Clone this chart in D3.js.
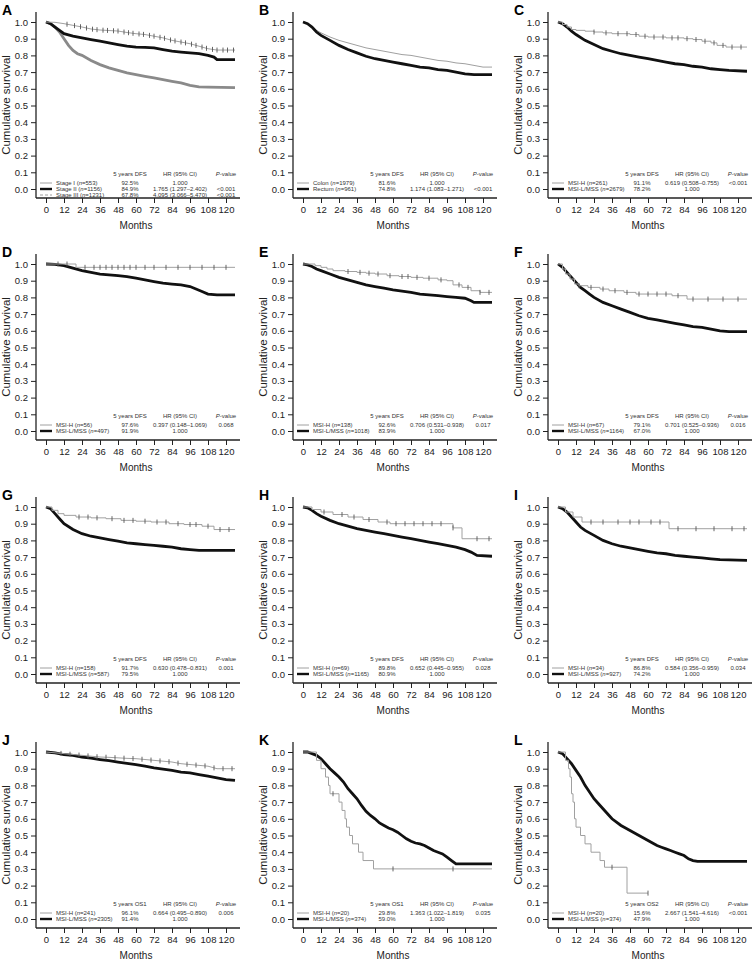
<!DOCTYPE html>
<html>
<head>
<meta charset="utf-8">
<script src="https://cdn.jsdelivr.net/npm/d3@7"></script>
<style>
body { margin: 0; background: #fff; }
svg text { font-family: "Liberation Sans", Arial, sans-serif; }
</style>
</head>
<body>
<svg id="chart" width="756" height="961"></svg>
<script>
// axis ticks
var monthTicks = [0, 12, 24, 36, 48, 60, 72, 84, 96, 108, 120];
var survTicks = [0, 0.1, 0.2, 0.3, 0.4, 0.5, 0.6, 0.7, 0.8, 0.9, 1.0];

// ---- A: stage
var a_stage1 = [[0,1],[6,0.998],[12,0.99],[18,0.98],[24,0.97],[30,0.958],[36,0.952],[48,0.946],[54,0.937],[60,0.93],[66,0.925],[72,0.915],[78,0.905],[84,0.89],[90,0.88],[96,0.87],[102,0.855],[108,0.84],[114,0.832],[126,0.832]];
var a_stage2 = [[0,1],[3,0.99],[6,0.97],[9,0.95],[12,0.93],[18,0.915],[24,0.905],[30,0.895],[36,0.885],[42,0.875],[48,0.865],[54,0.856],[60,0.85],[66,0.848],[72,0.845],[78,0.835],[84,0.825],[90,0.82],[96,0.815],[102,0.81],[108,0.8],[112,0.79],[114,0.775],[126,0.775]];
var a_stage3 = [[0,1],[3,0.99],[6,0.97],[9,0.94],[12,0.9],[15,0.86],[18,0.83],[21,0.81],[24,0.8],[30,0.77],[36,0.745],[42,0.725],[48,0.71],[54,0.695],[60,0.685],[66,0.675],[72,0.665],[78,0.655],[84,0.645],[90,0.635],[96,0.62],[102,0.612],[108,0.61],[126,0.607]];
var a_stage1_cens = [14,19,23,27,31,34,38,41,45,48,52,55,58,62,65,69,72,76,79,83,86,90,93,97,100,104,107,111,114,118,121,125];
var legendA = [["Stage I","553","92.5%","1.000",""],["Stage II","1156","84.9%","1.765 (1.297\u20132.402)","<0.001"],["Stage III","1231","67.8%","4.095 (3.066\u20135.470)","<0.001"]];

// ---- B: site
var b_colon = [[0,1],[3,0.99],[6,0.97],[9,0.95],[12,0.935],[18,0.91],[24,0.89],[30,0.875],[36,0.86],[42,0.845],[48,0.835],[54,0.825],[60,0.815],[66,0.805],[72,0.8],[78,0.79],[84,0.78],[90,0.77],[96,0.765],[102,0.755],[108,0.75],[114,0.74],[120,0.73],[126,0.73]];
var b_rectum = [[0,1],[3,0.99],[6,0.97],[9,0.94],[12,0.92],[18,0.89],[24,0.86],[30,0.835],[36,0.815],[42,0.795],[48,0.78],[54,0.77],[60,0.76],[66,0.75],[72,0.74],[78,0.73],[84,0.725],[90,0.715],[96,0.71],[102,0.7],[108,0.69],[114,0.685],[126,0.685]];
var legendB = [["Colon","1979","81.6%","1.000",""],["Rectum","961","74.8%","1.174 (1.083\u20131.271)","<0.001"]];

// ---- C
var c_msih = [[0,1],[3,0.985],[6,0.97],[9,0.955],[12,0.95],[18,0.945],[24,0.94],[30,0.935],[36,0.93],[48,0.925],[54,0.915],[60,0.91],[72,0.905],[84,0.9],[90,0.895],[96,0.885],[102,0.875],[106,0.86],[112,0.85],[126,0.85]];
var c_mss = [[0,1],[3,0.99],[6,0.97],[9,0.945],[12,0.925],[18,0.89],[24,0.865],[30,0.84],[36,0.825],[42,0.81],[48,0.8],[54,0.79],[60,0.78],[66,0.77],[72,0.76],[78,0.75],[84,0.745],[90,0.735],[96,0.73],[102,0.72],[108,0.715],[114,0.71],[126,0.705]];
var c_msih_cens = [24,32,40,46,52,58,64,70,76,80,86,92,98,104,110,116,122];
var legendC = [["MSI-H","261","91.1%","0.619 (0.508\u20130.755)","<0.001"],["MSI-L/MSS","2679","78.2%","1.000",""]];

// ---- D
var d_msih = [[0,1],[20,0.98],[126,0.98]];
var d_mss = [[0,1],[6,0.998],[12,0.99],[18,0.975],[24,0.96],[30,0.95],[36,0.94],[42,0.935],[48,0.93],[54,0.925],[60,0.915],[66,0.905],[72,0.895],[78,0.885],[84,0.88],[90,0.875],[96,0.865],[100,0.85],[104,0.835],[108,0.82],[114,0.815],[126,0.815]];
var d_msih_cens = [8,14,26,32,36,40,44,48,52,56,60,66,72,80,88,96,104,112,120];
var legendD = [["MSI-H","56","97.6%","0.397 (0.148\u20131.069)","0.068"],["MSI-L/MSS","497","91.9%","1.000",""]];

// ---- E
var e_msih = [[0,1],[8,0.99],[12,0.98],[16,0.97],[20,0.96],[28,0.955],[36,0.95],[42,0.945],[48,0.94],[56,0.93],[64,0.925],[72,0.92],[80,0.915],[90,0.905],[96,0.9],[100,0.875],[106,0.86],[112,0.84],[118,0.83],[126,0.83]];
var e_mss = [[0,1],[3,0.995],[6,0.985],[9,0.97],[12,0.96],[18,0.94],[24,0.92],[30,0.905],[36,0.89],[42,0.875],[48,0.865],[54,0.855],[60,0.845],[66,0.838],[72,0.83],[78,0.82],[84,0.815],[90,0.81],[96,0.805],[102,0.8],[108,0.795],[112,0.78],[114,0.77],[126,0.77]];
var e_msih_cens = [30,38,44,50,58,66,70,76,84,92,104,110,118,124];
var legendE = [["MSI-H","138","92.6%","0.706 (0.531\u20130.938)","0.017"],["MSI-L/MSS","1018","83.9%","1.000",""]];

// ---- F
var f_msih = [[0,1],[3,0.97],[5,0.94],[8,0.91],[11,0.88],[14,0.87],[20,0.86],[28,0.85],[34,0.84],[44,0.83],[52,0.82],[76,0.81],[86,0.79],[126,0.79]];
var f_mss = [[0,1],[3,0.98],[6,0.95],[9,0.92],[12,0.89],[15,0.86],[18,0.84],[21,0.82],[24,0.8],[30,0.77],[36,0.75],[42,0.73],[48,0.71],[54,0.69],[60,0.675],[66,0.665],[72,0.655],[78,0.645],[84,0.635],[90,0.625],[96,0.62],[102,0.61],[108,0.6],[114,0.595],[126,0.595]];
var f_msih_cens = [14,22,30,38,46,54,60,66,72,80,90,100,110,120];
var legendF = [["MSI-H","67","79.1%","0.701 (0.525\u20130.936)","0.016"],["MSI-L/MSS","1164","67.0%","1.000",""]];

// ---- G
var g_msih = [[0,1],[4,0.98],[8,0.96],[12,0.95],[20,0.94],[30,0.935],[40,0.93],[50,0.92],[60,0.915],[70,0.91],[82,0.9],[92,0.895],[104,0.885],[112,0.865],[126,0.865]];
var g_mss = [[0,1],[3,0.99],[6,0.96],[9,0.93],[12,0.9],[18,0.865],[24,0.84],[30,0.825],[36,0.815],[42,0.805],[48,0.795],[54,0.785],[60,0.78],[66,0.775],[72,0.77],[78,0.765],[84,0.76],[90,0.75],[96,0.745],[102,0.74],[126,0.74]];
var g_msih_cens = [22,28,34,44,52,58,66,74,80,88,96,100,108,116,122];
var legendG = [["MSI-H","158","91.7%","0.630 (0.478\u20130.831)","0.001"],["MSI-L/MSS","587","79.5%","1.000",""]];

// ---- H
var h_msih = [[0,1],[6,0.985],[12,0.97],[20,0.955],[30,0.94],[40,0.925],[50,0.91],[58,0.9],[98,0.9],[100,0.875],[106,0.81],[126,0.81]];
var h_mss = [[0,1],[3,0.995],[6,0.98],[9,0.96],[12,0.945],[18,0.92],[24,0.9],[30,0.885],[36,0.87],[42,0.86],[48,0.85],[54,0.84],[60,0.83],[66,0.82],[72,0.81],[78,0.8],[84,0.79],[90,0.78],[96,0.77],[102,0.76],[108,0.745],[112,0.73],[116,0.71],[126,0.705]];
var h_msih_cens = [14,26,34,44,56,62,68,74,80,86,92,100,116,124];
var legendH = [["MSI-H","69","89.8%","0.652 (0.445\u20130.955)","0.028"],["MSI-L/MSS","1165","80.9%","1.000",""]];

// ---- I
var i_msih = [[0,1],[5,0.97],[10,0.94],[16,0.91],[74,0.87],[126,0.87]];
var i_mss = [[0,1],[3,0.99],[6,0.97],[9,0.94],[12,0.91],[15,0.88],[18,0.86],[24,0.83],[30,0.8],[36,0.78],[42,0.765],[48,0.755],[54,0.745],[60,0.735],[66,0.725],[72,0.72],[78,0.71],[84,0.705],[90,0.7],[96,0.695],[102,0.69],[108,0.685],[126,0.68]];
var i_msih_cens = [22,30,40,48,54,62,68,80,92,104,116,124];
var legendI = [["MSI-H","34","86.8%","0.584 (0.356\u20130.959)","0.034"],["MSI-L/MSS","927","74.2%","1.000",""]];

// ---- J
var j_msih = [[0,1],[6,0.995],[12,0.99],[18,0.985],[24,0.98],[30,0.975],[36,0.97],[42,0.968],[48,0.965],[54,0.962],[60,0.96],[66,0.955],[72,0.95],[78,0.945],[84,0.94],[90,0.93],[96,0.925],[102,0.92],[108,0.915],[114,0.9],[126,0.9]];
var j_mss = [[0,1],[6,0.995],[12,0.985],[18,0.98],[24,0.97],[30,0.963],[36,0.955],[42,0.948],[48,0.94],[54,0.932],[60,0.925],[66,0.915],[72,0.905],[78,0.897],[84,0.89],[90,0.88],[96,0.875],[102,0.865],[108,0.855],[114,0.845],[120,0.835],[126,0.83]];
var j_msih_cens = [10,16,22,28,34,40,46,52,58,64,70,76,82,88,94,100,106,112,118,124];
var legendJ = [["MSI-H","241","96.1%","0.664 (0.495\u20130.890)","0.006"],["MSI-L/MSS","2305","91.4%","1.000",""]];

// ---- K
var k_msih = [[0,1],[9,0.95],[12,0.9],[15,0.85],[17,0.8],[18,0.75],[24,0.7],[26,0.65],[28,0.6],[29,0.55],[31,0.5],[33,0.45],[37,0.4],[40,0.35],[47,0.3],[126,0.3]];
var k_mss = [[0,1],[3,1],[6,0.99],[9,0.98],[12,0.96],[15,0.93],[18,0.9],[21,0.875],[24,0.85],[27,0.82],[30,0.78],[33,0.75],[36,0.72],[39,0.68],[42,0.645],[45,0.62],[48,0.6],[51,0.575],[54,0.56],[57,0.545],[60,0.535],[63,0.52],[66,0.5],[69,0.48],[72,0.465],[75,0.455],[78,0.45],[81,0.44],[84,0.425],[87,0.41],[90,0.4],[93,0.39],[96,0.37],[99,0.35],[102,0.33],[126,0.33]];
var k_msih_cens = [20,60,100];
var legendK = [["MSI-H","20","29.8%","1.363 (1.022\u20131.819)","0.035"],["MSI-L/MSS","374","59.0%","1.000",""]];

// ---- L
var l_msih = [[0,1],[5,0.95],[7,0.9],[8,0.85],[9,0.75],[10,0.7],[11,0.6],[12,0.55],[15,0.5],[18,0.45],[22,0.4],[28,0.35],[31,0.31],[46,0.155],[60,0.155]];
var l_mss = [[0,1],[3,0.99],[6,0.96],[9,0.93],[12,0.89],[15,0.85],[18,0.8],[21,0.76],[24,0.72],[27,0.69],[30,0.66],[33,0.63],[36,0.6],[39,0.58],[42,0.56],[45,0.545],[48,0.53],[51,0.515],[54,0.5],[57,0.485],[60,0.47],[63,0.455],[66,0.44],[69,0.43],[72,0.42],[75,0.41],[78,0.4],[81,0.39],[84,0.38],[87,0.36],[90,0.35],[93,0.345],[126,0.345]];
var l_msih_cens = [36,60];
var legendL = [["MSI-H","20","15.6%","2.667 (1.541\u20134.616)","<0.001"],["MSI-L/MSS","374","47.9%","1.000",""]];

// table used to draw the panels
var panels = [
    {letter: "A", head: "5 years DFS", legend: legendA, curves: [
        {pts: a_stage3, cens: [], kind: "gray3", step: false},
        {pts: a_stage2, cens: [], kind: "black", step: false},
        {pts: a_stage1, cens: a_stage1_cens, kind: "gray", step: false}],
        keys: ["gray", "black", "dash"]},
    {letter: "B", head: "5 years DFS", legend: legendB, curves: [
        {pts: b_colon, cens: [], kind: "gray", step: false},
        {pts: b_rectum, cens: [], kind: "black", step: false}]},
    {letter: "C", head: "5 years DFS", legend: legendC, curves: [
        {pts: c_mss, cens: [], kind: "black", step: false},
        {pts: c_msih, cens: c_msih_cens, kind: "gray", step: true}]},
    {letter: "D", head: "5 years DFS", legend: legendD, curves: [
        {pts: d_mss, cens: [], kind: "black", step: false},
        {pts: d_msih, cens: d_msih_cens, kind: "gray", step: true}]},
    {letter: "E", head: "5 years DFS", legend: legendE, curves: [
        {pts: e_mss, cens: [], kind: "black", step: false},
        {pts: e_msih, cens: e_msih_cens, kind: "gray", step: true}]},
    {letter: "F", head: "5 years DFS", legend: legendF, curves: [
        {pts: f_mss, cens: [], kind: "black", step: false},
        {pts: f_msih, cens: f_msih_cens, kind: "gray", step: true}]},
    {letter: "G", head: "5 years DFS", legend: legendG, curves: [
        {pts: g_mss, cens: [], kind: "black", step: false},
        {pts: g_msih, cens: g_msih_cens, kind: "gray", step: true}]},
    {letter: "H", head: "5 years DFS", legend: legendH, curves: [
        {pts: h_mss, cens: [], kind: "black", step: false},
        {pts: h_msih, cens: h_msih_cens, kind: "gray", step: true}]},
    {letter: "I", head: "5 years DFS", legend: legendI, curves: [
        {pts: i_mss, cens: [], kind: "black", step: false},
        {pts: i_msih, cens: i_msih_cens, kind: "gray", step: true}]},
    {letter: "J", head: "5 years OS1", legend: legendJ, curves: [
        {pts: j_mss, cens: [], kind: "black", step: false},
        {pts: j_msih, cens: j_msih_cens, kind: "gray", step: false}]},
    {letter: "K", head: "5 years OS1", legend: legendK, curves: [
        {pts: k_mss, cens: [], kind: "black", step: false},
        {pts: k_msih, cens: k_msih_cens, kind: "gray", step: true}]},
    {letter: "L", head: "5 years OS2", legend: legendL, curves: [
        {pts: l_mss, cens: [], kind: "black", step: false},
        {pts: l_msih, cens: l_msih_cens, kind: "gray", step: true}]}
];

var colX = [0, 257, 512];
var rowY = [0, 242, 485, 730];
var axisX = 36, axisY = 198;

var svg = d3.select("#chart");

var xScale = d3.scaleLinear().domain([0, 120]).range([46, 226]);
var yScale = d3.scaleLinear().domain([0, 1]).range([189, 22]);

var styles = {
    gray:  {stroke: "#a0a0a0", width: 1},
    gray3: {stroke: "#8a8a8a", width: 2.8},
    black: {stroke: "#111", width: 2.8},
    dash:  {stroke: "#a0a0a0", width: 1, dash: "3,2"}
};

// survival value at time t (for placing censor marks)
function survAt(pts, t, step) {
    for (var i = 1; i < pts.length; i++) {
        if (pts[i][0] > t) {
            if (step) return pts[i - 1][1];
            var k = (t - pts[i - 1][0]) / (pts[i][0] - pts[i - 1][0]);
            return pts[i - 1][1] + k * (pts[i][1] - pts[i - 1][1]);
        }
    }
    return pts[pts.length - 1][1];
}

panels.forEach(function(p, idx) {
    var col = idx % 3, row = Math.floor(idx / 3);
    var g = svg.append("g")
        .attr("transform", "translate(" + colX[col] + "," + rowY[row] + ")");

    // panel letter
    g.append("text")
        .attr("x", 2).attr("y", 15)
        .style("font-size", "14px").style("font-weight", "bold")
        .text(p.letter);

    // y axis
    var yAxis = g.append("g")
        .attr("transform", "translate(" + axisX + ",0)")
        .call(d3.axisLeft(yScale).tickValues(survTicks).tickSize(5).tickSizeOuter(0)
            .tickFormat(d3.format(".1f")));
    yAxis.select(".domain").remove();
    yAxis.selectAll("text").style("font-size", "9.5px").attr("x", -8).attr("fill", "#222");
    yAxis.selectAll("line").attr("stroke", "#222");
    g.append("line")
        .attr("x1", axisX).attr("x2", axisX)
        .attr("y1", 12).attr("y2", axisY)
        .attr("stroke", "#222").attr("stroke-width", 1.3);

    // x axis
    var xAxis = g.append("g")
        .attr("transform", "translate(0," + axisY + ")")
        .call(d3.axisBottom(xScale).tickValues(monthTicks).tickSize(5).tickSizeOuter(0));
    xAxis.select(".domain").remove();
    xAxis.selectAll("text").style("font-size", "9.5px").attr("y", 8).attr("fill", "#222");
    xAxis.selectAll("line").attr("stroke", "#222");
    g.append("line")
        .attr("x1", axisX).attr("x2", 240)
        .attr("y1", axisY).attr("y2", axisY)
        .attr("stroke", "#222").attr("stroke-width", 1.3);

    g.append("text")
        .attr("x", xScale(60)).attr("y", 229)
        .attr("text-anchor", "middle")
        .style("font-size", "10px").attr("fill", "#222")
        .text("Months");

    g.append("text")
        .attr("transform", "translate(10," + 105 + ") rotate(-90)")
        .attr("text-anchor", "middle")
        .style("font-size", "11.5px").attr("fill", "#222")
        .text("Cumulative survival");

    // curves
    p.curves.forEach(function(c) {
        var st = styles[c.kind];
        var line = d3.line()
            .x(function(d) { return xScale(d[0]); })
            .y(function(d) { return yScale(d[1]); })
            .curve(c.step ? d3.curveStepAfter : d3.curveLinear);
        g.append("path")
            .datum(c.pts)
            .attr("d", line)
            .attr("fill", "none")
            .attr("stroke", st.stroke)
            .attr("stroke-width", st.width);

        g.selectAll(null)
            .data(c.cens)
            .enter()
            .append("line")
            .attr("x1", function(t) { return xScale(t); })
            .attr("x2", function(t) { return xScale(t); })
            .attr("y1", function(t) { return yScale(survAt(c.pts, t, c.step)) - 2.5; })
            .attr("y2", function(t) { return yScale(survAt(c.pts, t, c.step)) + 2.5; })
            .attr("stroke", "#555")
            .attr("stroke-width", 0.9);
    });

    // legend / stats table
    var headY = 176;
    var colDFS = 130, colHR = 180, colP = 226;
    var fs = "6px";
    var lg = g.append("g").attr("fill", "#333");

    lg.append("text").attr("x", colDFS).attr("y", headY).attr("text-anchor", "middle")
        .style("font-size", fs).text(p.head);
    lg.append("text").attr("x", colHR).attr("y", headY).attr("text-anchor", "middle")
        .style("font-size", fs).text("HR (95% CI)");
    var pv = lg.append("text").attr("x", colP).attr("y", headY).attr("text-anchor", "middle")
        .style("font-size", fs);
    pv.append("tspan").style("font-style", "italic").text("P");
    pv.append("tspan").text("-value");

    var keys = p.keys || ["gray", "black"];
    p.legend.forEach(function(r, i) {
        var ry = 185 + i * 6;
        var st = styles[keys[i]];
        lg.append("line")
            .attr("x1", 40).attr("x2", 52)
            .attr("y1", ry - 2).attr("y2", ry - 2)
            .attr("stroke", st.stroke)
            .attr("stroke-width", st.width === 1 ? 1 : 2.4)
            .attr("stroke-dasharray", st.dash || null);
        var lab = lg.append("text").attr("x", 56).attr("y", ry).style("font-size", fs);
        lab.append("tspan").text(r[0] + " (");
        lab.append("tspan").style("font-style", "italic").text("n");
        lab.append("tspan").text("=" + r[1] + ")");
        lg.append("text").attr("x", colDFS).attr("y", ry).attr("text-anchor", "middle")
            .style("font-size", fs).text(r[2]);
        lg.append("text").attr("x", colHR).attr("y", ry).attr("text-anchor", "middle")
            .style("font-size", fs).text(r[3]);
        lg.append("text").attr("x", colP).attr("y", ry).attr("text-anchor", "middle")
            .style("font-size", fs).text(r[4]);
    });
});
</script>
</body>
</html>
